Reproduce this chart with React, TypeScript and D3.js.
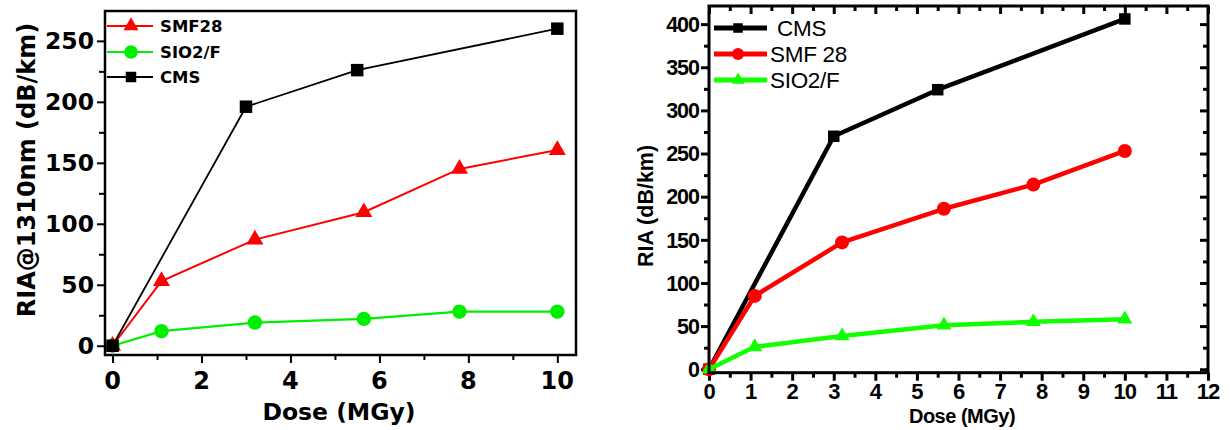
import React, { useEffect, useRef } from 'react';
import * as d3 from 'd3';

// ---------- Left chart data ----------
const leftCmsDose = [0, 3, 5.5, 10];
const leftCmsRia = [0, 196, 226, 260];
const leftSmfDose = [0, 1.1, 3.2, 5.65, 7.8, 10];
const leftSmfRia = [0, 53, 87, 109.5, 145, 160.5];
const leftSioDose = [0, 1.1, 3.2, 5.65, 7.8, 10];
const leftSioRia = [0, 12, 19, 22, 28, 28];
const leftXTicks = [0, 2, 4, 6, 8, 10];
const leftXMinor = [1, 3, 5, 7, 9];
const leftYTicks = [0, 50, 100, 150, 200, 250];
const leftYMinor = [25, 75, 125, 175, 225];
const leftLegend = ['SMF28', 'SIO2/F', 'CMS'];

// ---------- Right chart data ----------
const rightCmsDose = [0, 3, 5.5, 10];
const rightCmsRia = [0, 270, 324, 406];
const rightSmfDose = [0, 1.1, 3.2, 5.65, 7.8, 10];
const rightSmfRia = [0, 85, 147, 186, 214, 253];
const rightSioDose = [0, 1.1, 3.2, 5.65, 7.8, 10];
const rightSioRia = [0, 26, 38.5, 51, 55, 58];
const rightXTicks = [0, 1, 2, 3, 4, 5, 6, 7, 8, 9, 10, 11, 12];
const rightXMinor = [0.5, 1.5, 2.5, 3.5, 4.5, 5.5, 6.5, 7.5, 8.5, 9.5, 10.5, 11.5];
const rightYTicks = [0, 50, 100, 150, 200, 250, 300, 350, 400];
const rightYMinor = [25, 75, 125, 175, 225, 275, 325, 375];
const rightLegend = ['CMS', 'SMF 28', 'SIO2/F'];

const RED = '#ff0000';
const GREEN = '#00ee00';
const RGREEN = '#11ff00';
const BLACK = '#000000';

export default function App() {
  const ref = useRef<SVGSVGElement | null>(null);

  useEffect(() => {
    const svg = d3.select(ref.current);
    svg.selectAll('*').remove();

    const symbolPath = (type: string, s: number) => {
      if (type === 'square') return d3.symbol().type(d3.symbolSquare).size(s * s)();
      if (type === 'circle') return d3.symbol().type(d3.symbolCircle).size(Math.PI * s * s)();
      return d3.symbol().type(d3.symbolTriangle).size((Math.sqrt(3) / 4) * s * s)();
    };

    // ================= LEFT CHART =================
    {
      const LF = 'DejaVu Sans, Verdana, sans-serif';
      const x = d3.scaleLinear().domain([-0.17, 10.42]).range([105, 576]);
      const y = d3.scaleLinear().domain([-7.6, 274.5]).range([355, 11]);
      const g = svg.append('g');

      const ax = d3.axisBottom(x).tickValues(leftXTicks).tickSize(8).tickFormat(() => '');
      const axm = d3.axisBottom(x).tickValues(leftXMinor).tickSize(5).tickFormat(() => '');
      const ay = d3.axisLeft(y).tickValues(leftYTicks).tickSize(8).tickFormat(() => '');
      const aym = d3.axisLeft(y).tickValues(leftYMinor).tickSize(6).tickFormat(() => '');
      [ax, axm].forEach((a) => {
        const gg = g.append('g').attr('transform', 'translate(0,355)').call(a);
        gg.select('.domain').remove();
        gg.selectAll('line').attr('stroke', '#000').attr('stroke-width', 2);
      });
      [ay, aym].forEach((a) => {
        const gg = g.append('g').attr('transform', 'translate(105,0)').call(a);
        gg.select('.domain').remove();
        gg.selectAll('line').attr('stroke', '#000').attr('stroke-width', 2);
      });

      g.append('g')
        .selectAll('text')
        .data(leftXTicks)
        .join('text')
        .attr('x', (d) => x(d))
        .attr('y', 389)
        .attr('text-anchor', 'middle')
        .attr('font-family', LF)
        .attr('font-weight', 'bold')
        .attr('font-size', 24)
        .text((d) => String(d));
      g.append('g')
        .selectAll('text')
        .data(leftYTicks)
        .join('text')
        .attr('x', 94)
        .attr('y', (d) => y(d))
        .attr('dy', '0.36em')
        .attr('text-anchor', 'end')
        .attr('font-family', LF)
        .attr('font-weight', 'bold')
        .attr('font-size', 23.5)
        .text((d) => String(d));

      g.append('text')
        .attr('x', 339)
        .attr('y', 420)
        .attr('text-anchor', 'middle')
        .attr('font-family', LF)
        .attr('font-weight', 'bold')
        .attr('font-size', 23.5)
        .text('Dose (MGy)');
      g.append('text')
        .attr('transform', 'translate(35,170) rotate(-90)')
        .attr('text-anchor', 'middle')
        .attr('font-family', LF)
        .attr('font-weight', 'bold')
        .attr('font-size', 24)
        .text('RIA@1310nm (dB/km)');

      const series = [
        { dose: leftSioDose, ria: leftSioRia, color: GREEN, shape: 'circle', size: 7.2, w: 2.2 },
        { dose: leftSmfDose, ria: leftSmfRia, color: RED, shape: 'triangle', size: 17, w: 2 },
        { dose: leftCmsDose, ria: leftCmsRia, color: BLACK, shape: 'square', size: 12.5, w: 1.8 },
      ];
      series.forEach((s) => {
        const pts = s.dose.map((d, i) => [x(d), y(s.ria[i])] as [number, number]);
        g.append('path')
          .attr('d', d3.line()(pts) as string)
          .attr('fill', 'none')
          .attr('stroke', s.color)
          .attr('stroke-width', s.w);
        g.append('g')
          .selectAll('path')
          .data(pts)
          .join('path')
          .attr('transform', (p) => `translate(${p[0]},${p[1]})`)
          .attr('d', symbolPath(s.shape, s.size) as string)
          .attr('fill', s.color);
      });

      g.append('rect')
        .attr('x', 105)
        .attr('y', 11)
        .attr('width', 471)
        .attr('height', 344)
        .attr('fill', 'none')
        .attr('stroke', '#000')
        .attr('stroke-width', 2.5);

      const legItems = [
        { label: leftLegend[0], color: RED, shape: 'triangle', size: 15 },
        { label: leftLegend[1], color: GREEN, shape: 'circle', size: 6.8 },
        { label: leftLegend[2], color: BLACK, shape: 'square', size: 10.5 },
      ];
      const legY = [26, 52, 77];
      legItems.forEach((it, i) => {
        const cy = legY[i];
        g.append('line')
          .attr('x1', 107)
          .attr('x2', 153)
          .attr('y1', cy)
          .attr('y2', cy)
          .attr('stroke', it.color)
          .attr('stroke-width', 2);
        g.append('path')
          .attr('transform', `translate(131,${cy})`)
          .attr('d', symbolPath(it.shape, it.size) as string)
          .attr('fill', it.color);
        g.append('text')
          .attr('x', 160)
          .attr('y', cy + 6)
          .attr('font-family', LF)
          .attr('font-weight', 'bold')
          .attr('font-size', 16.5)
          .text(it.label);
      });
    }

    // ================= RIGHT CHART =================
    {
      const RF = 'Liberation Sans, Arial, sans-serif';
      const x = d3.scaleLinear().domain([0, 12]).range([709, 1208]);
      const y = d3.scaleLinear().domain([-4, 421]).range([372.7, 6]);
      const g = svg.append('g');

      const mk = (a: any, tx: number, ty: number) => {
        const gg = g.append('g').attr('transform', `translate(${tx},${ty})`).call(a);
        gg.select('.domain').remove();
        gg.selectAll('line').attr('stroke', '#000').attr('stroke-width', 3);
      };
      mk(d3.axisBottom(x).tickValues(rightXTicks).tickSize(8).tickFormat(() => ''), 0, 372.7);
      mk(d3.axisBottom(x).tickValues(rightXMinor).tickSize(5).tickFormat(() => ''), 0, 372.7);
      mk(d3.axisBottom(x).tickValues(rightXTicks).tickSize(8).tickFormat(() => ''), 0, 6);
      mk(d3.axisBottom(x).tickValues(rightXMinor).tickSize(5).tickFormat(() => ''), 0, 6);
      mk(d3.axisLeft(y).tickValues(rightYTicks).tickSize(8).tickFormat(() => ''), 709, 0);
      mk(d3.axisLeft(y).tickValues(rightYMinor).tickSize(5).tickFormat(() => ''), 709, 0);
      mk(d3.axisLeft(y).tickValues(rightYTicks).tickSize(8).tickFormat(() => ''), 1208, 0);
      mk(d3.axisLeft(y).tickValues(rightYMinor).tickSize(5).tickFormat(() => ''), 1208, 0);

      g.append('g')
        .selectAll('text')
        .data(rightXTicks)
        .join('text')
        .attr('x', (d) => x(d))
        .attr('y', 399)
        .attr('text-anchor', 'middle')
        .attr('font-family', RF)
        .attr('font-weight', 'bold')
        .attr('font-size', 22)
        .attr('letter-spacing', -1)
        .text((d) => String(d));
      g.append('g')
        .selectAll('text')
        .data(rightYTicks)
        .join('text')
        .attr('x', 699)
        .attr('y', (d) => y(d))
        .attr('dy', '0.36em')
        .attr('text-anchor', 'end')
        .attr('font-family', RF)
        .attr('font-weight', 'bold')
        .attr('font-size', 21.5)
        .attr('letter-spacing', -1)
        .text((d) => String(d));

      g.append('text')
        .attr('x', 962)
        .attr('y', 423)
        .attr('text-anchor', 'middle')
        .attr('font-family', RF)
        .attr('font-weight', 'bold')
        .attr('font-size', 20)
        .attr('letter-spacing', -0.5)
        .text('Dose (MGy)');
      g.append('text')
        .attr('transform', 'translate(653,206) rotate(-90)')
        .attr('text-anchor', 'middle')
        .attr('font-family', RF)
        .attr('font-weight', 'bold')
        .attr('font-size', 21.5)
        .text('RIA (dB/km)');

      const series = [
        { dose: rightCmsDose, ria: rightCmsRia, color: BLACK, shape: 'square', size: 11.5 },
        { dose: rightSmfDose, ria: rightSmfRia, color: RED, shape: 'circle', size: 7 },
        { dose: rightSioDose, ria: rightSioRia, color: RGREEN, shape: 'triangle', size: 15 },
      ];
      series.forEach((s) => {
        const pts = s.dose.map((d, i) => [x(d), y(s.ria[i])] as [number, number]);
        g.append('path')
          .attr('d', d3.line()(pts) as string)
          .attr('fill', 'none')
          .attr('stroke', s.color)
          .attr('stroke-width', 4.5)
          .attr('stroke-linejoin', 'round');
        g.append('g')
          .selectAll('path')
          .data(pts)
          .join('path')
          .attr('transform', (p) => `translate(${p[0]},${p[1]})`)
          .attr('d', symbolPath(s.shape, s.size) as string)
          .attr('fill', s.color);
      });

      g.append('rect')
        .attr('x', 709)
        .attr('y', 6)
        .attr('width', 499)
        .attr('height', 366.7)
        .attr('fill', 'none')
        .attr('stroke', '#000')
        .attr('stroke-width', 3);

      const legItems = [
        { label: rightLegend[0], color: BLACK, shape: 'square', size: 9.5, tx: 777 },
        { label: rightLegend[1], color: RED, shape: 'circle', size: 6, tx: 770 },
        { label: rightLegend[2], color: RGREEN, shape: 'triangle', size: 13, tx: 770 },
      ];
      const legY = [28, 54, 80];
      legItems.forEach((it, i) => {
        const cy = legY[i];
        g.append('line')
          .attr('x1', 714)
          .attr('x2', 767)
          .attr('y1', cy)
          .attr('y2', cy)
          .attr('stroke', it.color)
          .attr('stroke-width', 5);
        g.append('path')
          .attr('transform', `translate(738,${cy})`)
          .attr('d', symbolPath(it.shape, it.size) as string)
          .attr('fill', it.color);
        g.append('text')
          .attr('x', it.tx)
          .attr('y', cy + 8)
          .attr('font-family', RF)
          .attr('font-size', 22.5)
          .attr('letter-spacing', -0.3)
          .text(it.label);
      });
    }
  }, []);

  return (
    <svg
      ref={ref}
      width={1230}
      height={430}
      style={{ position: 'absolute', left: 0, top: 0, background: '#fff' }}
    />
  );
}
